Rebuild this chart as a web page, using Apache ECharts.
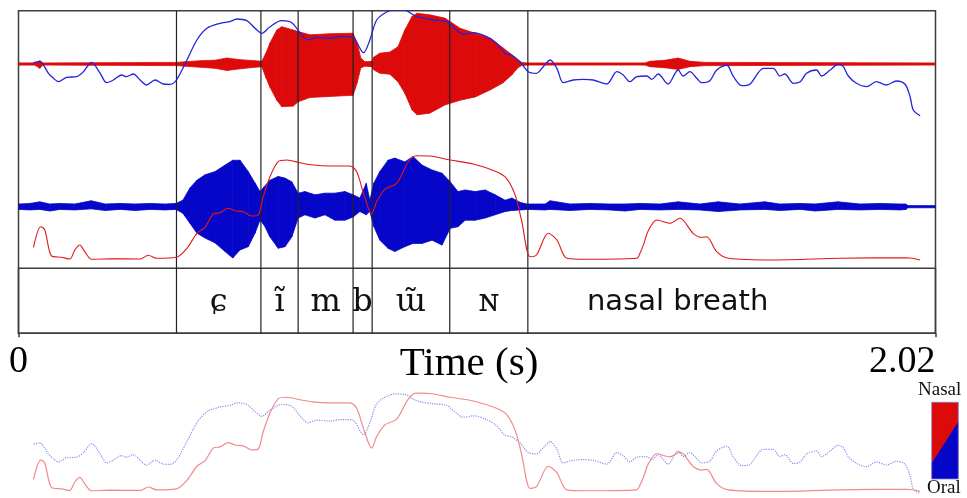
<!DOCTYPE html>
<html>
<head>
<meta charset="utf-8">
<script src="https://cdn.jsdelivr.net/npm/echarts@6/dist/echarts.min.js"></script>
<style>
  html, body { margin: 0; padding: 0; background: #fff; }
  #chart { width: 967px; height: 498px; }
</style>
</head>
<body>
<div id="chart"></div>
<script>
// ---- Recording: duration and segmentation (seconds) ----
const duration = 2.02;
const boundaries = [0.348, 0.534, 0.616, 0.737, 0.779, 0.950, 1.122];
const tierLabels = ['', 'ɕ', 'ĩ', 'm', 'b', 'ɯ̃', 'ɴ', 'nasal breath'];

// ---- Nasal channel waveform: positive / negative peak per time (relative amplitude) ----
const nasalWaveTime = [0.001, 0.036, 0.047, 0.054, 0.347, 0.367, 0.400, 0.433, 0.459, 0.488, 0.521, 0.536,
  0.545, 0.554, 0.569, 0.580, 0.605, 0.616, 0.642, 0.686, 0.737, 0.746, 0.754, 0.763, 0.779, 0.783, 0.796,
  0.818, 0.836, 0.851, 0.867, 0.878, 0.906, 0.939, 0.973, 1.006, 1.039, 1.067, 1.087, 1.100, 1.108, 1.120,
  1.380, 1.391, 1.424, 1.453, 1.479, 1.512, 2.019];
const nasalWaveMax = [0.02, 0.02, 0.06, 0.02, 0.03, 0.04, 0.06, 0.07, 0.11, 0.08, 0.06, 0.05,
  0.20, 0.39, 0.63, 0.69, 0.63, 0.60, 0.54, 0.56, 0.57, 0.39, 0.11, 0.04, 0.05, 0.13, 0.20,
  0.22, 0.32, 0.63, 0.88, 0.94, 0.91, 0.85, 0.66, 0.57, 0.48, 0.30, 0.17, 0.07, 0.03, 0.02,
  0.02, 0.05, 0.07, 0.11, 0.05, 0.03, 0.02];
const nasalWaveMin = [-0.02, -0.02, -0.08, -0.02, -0.03, -0.04, -0.06, -0.08, -0.12, -0.09, -0.06, -0.05,
  -0.25, -0.43, -0.67, -0.79, -0.78, -0.70, -0.62, -0.60, -0.58, -0.35, -0.07, -0.04, -0.05, -0.11, -0.17,
  -0.19, -0.33, -0.54, -0.85, -0.94, -0.91, -0.76, -0.67, -0.61, -0.48, -0.35, -0.20, -0.07, -0.03, -0.02,
  -0.02, -0.05, -0.07, -0.10, -0.05, -0.03, -0.02];

// ---- Oral channel waveform ----
const oralWaveTime = [0.001, 0.025, 0.047, 0.069, 0.091, 0.124, 0.160, 0.191, 0.224, 0.257, 0.290, 0.323,
  0.347, 0.362, 0.378, 0.393, 0.411, 0.433, 0.455, 0.472, 0.488, 0.506, 0.521, 0.532, 0.541, 0.554, 0.572,
  0.587, 0.602, 0.616, 0.631, 0.653, 0.675, 0.697, 0.719, 0.737, 0.752, 0.766, 0.774, 0.783, 0.796, 0.814,
  0.829, 0.851, 0.869, 0.889, 0.911, 0.933, 0.951, 0.968, 0.984, 1.006, 1.028, 1.050, 1.072, 1.087, 1.105,
  1.120, 1.160, 1.171, 1.215, 1.259, 1.303, 1.336, 1.369, 1.413, 1.453, 1.501, 1.541, 1.589, 1.644, 1.677,
  1.722, 1.755, 1.805, 1.854, 1.898, 1.942, 1.955, 1.959, 2.019];
const oralWaveMax = [0.05, 0.06, 0.09, 0.05, 0.06, 0.05, 0.11, 0.05, 0.06, 0.05, 0.06, 0.05,
  0.06, 0.12, 0.35, 0.49, 0.59, 0.65, 0.77, 0.86, 0.86, 0.65, 0.44, 0.28, 0.37, 0.49, 0.56,
  0.53, 0.46, 0.25, 0.28, 0.22, 0.25, 0.25, 0.28, 0.22, 0.16, 0.43, 0.12, 0.44, 0.65, 0.86,
  0.90, 0.83, 0.93, 0.77, 0.68, 0.62, 0.46, 0.28, 0.31, 0.28, 0.31, 0.22, 0.12, 0.16, 0.08,
  0.05, 0.05, 0.11, 0.05, 0.06, 0.05, 0.05, 0.06, 0.05, 0.09, 0.05, 0.09, 0.05, 0.09, 0.05,
  0.06, 0.05, 0.09, 0.05, 0.06, 0.05, 0.05, 0.02, 0.02];
const oralWaveMin = [-0.05, -0.06, -0.05, -0.08, -0.05, -0.06, -0.04, -0.07, -0.05, -0.07, -0.05, -0.06,
  -0.05, -0.12, -0.31, -0.49, -0.58, -0.67, -0.83, -0.95, -0.80, -0.74, -0.49, -0.25, -0.34, -0.56, -0.77,
  -0.74, -0.56, -0.21, -0.15, -0.21, -0.15, -0.25, -0.25, -0.19, -0.09, -0.15, -0.09, -0.37, -0.62, -0.77,
  -0.83, -0.74, -0.68, -0.68, -0.62, -0.71, -0.40, -0.37, -0.25, -0.25, -0.21, -0.15, -0.09, -0.07, -0.06,
  -0.05, -0.06, -0.05, -0.07, -0.05, -0.06, -0.08, -0.05, -0.06, -0.05, -0.06, -0.09, -0.06, -0.05, -0.07,
  -0.05, -0.08, -0.05, -0.06, -0.05, -0.06, -0.05, -0.02, -0.02];

// ---- Oral amplitude envelope (level units) ----
const oralEnvTime = [0.033, 0.047, 0.055, 0.066, 0.077, 0.088, 0.106, 0.128, 0.143, 0.161, 0.180, 0.194,
  0.209, 0.227, 0.238, 0.253, 0.268, 0.282, 0.301, 0.319, 0.334, 0.348, 0.371, 0.393, 0.415, 0.444, 0.466,
  0.481, 0.503, 0.521, 0.536, 0.554, 0.580, 0.602, 0.624, 0.638, 0.657, 0.686, 0.708, 0.734, 0.760, 0.774,
  0.789, 0.811, 0.829, 0.851, 0.877, 0.914, 0.943, 0.965, 0.980, 1.002, 1.031, 1.053, 1.072, 1.086, 1.105,
  1.123, 1.141, 1.156, 1.171, 1.186, 1.200, 1.222, 1.244, 1.266, 1.296, 1.318, 1.332, 1.347, 1.362, 1.384,
  1.395, 1.409, 1.431, 1.453, 1.464, 1.479, 1.494, 1.505, 1.523, 1.538, 1.560, 1.575, 1.593, 1.611, 1.641,
  1.663, 1.677, 1.688, 1.707, 1.722, 1.736, 1.758, 1.769, 1.788, 1.806, 1.817, 1.828, 1.846, 1.868, 1.890,
  1.912, 1.934, 1.953, 1.964, 1.971, 1.986];
const oralEnvLevel = [57.3, 58.3, 55, 46.7, 41.7, 38.3, 42.7, 43.3, 48.3, 57.7, 46.7, 37.3,
  40, 45, 43.3, 46, 40, 35, 40, 36, 35.7, 40, 60, 80, 91.7, 96.7, 98.3,
  101, 99.3, 91.7, 86.7, 93.3, 99.3, 97.3, 85, 80, 82.7, 81.7, 83.3, 83.3, 67.3, 80,
  100, 108, 110.5, 110, 103.3, 100, 98.3, 90, 85.7, 87.3, 83.3, 76.7, 66.7, 65, 58.3,
  48.3, 46.7, 53.3, 60, 51.7, 37.3, 40, 40.7, 40, 36, 48.3, 45, 38.3, 43.3, 44,
  40.7, 46, 36, 50, 44, 48.3, 41.7, 37.3, 39.3, 50, 55, 43.3, 34.3, 35.7, 51.7,
  51.7, 44, 46, 36.7, 38.3, 46.7, 50, 44, 50, 56, 53.3, 44, 36.7, 33.3, 38.3,
  35, 39, 35.7, 23.3, 10, 4.3];

// ---- Nasal amplitude envelope (level units) ----
const nasalEnvTime = [0.033, 0.049, 0.058, 0.073, 0.095, 0.113, 0.124, 0.135, 0.146, 0.161, 0.202, 0.268,
  0.286, 0.304, 0.348, 0.371, 0.393, 0.411, 0.429, 0.444, 0.462, 0.477, 0.495, 0.514, 0.528, 0.539, 0.554,
  0.572, 0.591, 0.620, 0.649, 0.686, 0.730, 0.745, 0.760, 0.778, 0.789, 0.807, 0.833, 0.859, 0.877, 0.906,
  0.951, 1.002, 1.053, 1.075, 1.094, 1.108, 1.127, 1.141, 1.167, 1.186, 1.208, 1.252, 1.362, 1.369, 1.378,
  1.387, 1.406, 1.435, 1.457, 1.486, 1.505, 1.516, 1.538, 1.564, 1.663, 1.810, 1.957, 1.986];
const nasalEnvLevel = [19.7, 40.3, 37, 11, 9.7, 8, 17, 22, 15.3, 7.7, 8.3, 8,
  11.7, 8.7, 9.7, 18.7, 33.7, 39.7, 53, 54.3, 58.7, 56.3, 55.3, 51, 52, 70.3, 90.3,
  105.3, 107, 104.3, 102, 101, 101, 95.3, 73.7, 53, 65.3, 77.7, 83.7, 105.3, 111.3, 111,
  107, 103, 95.3, 88.7, 72, 47, 10.3, 12, 33.7, 27, 8.7, 7.7, 8.7, 13.7, 24,
  36, 47, 43.7, 48.7, 33.7, 29.7, 30.3, 15.3, 8.7, 7, 8.7, 9.3, 7];

// ---- Colours ----
const RED = '#dc0a0a';
const BLUE = '#0606c8';
const FRAME = '#3c3c3c';
const LEFT = 18.5, RIGHT = 31.5;

function pairs(t, v) { return t.map((x, i) => [x, v[i]]); }
function bandSegments(t, hi, lo) {
  const out = [];
  for (let i = 0; i < t.length - 1; i++) out.push([t[i], hi[i], lo[i], t[i + 1], hi[i + 1], lo[i + 1]]);
  return out;
}
function bandRenderer(color) {
  return function (params, api) {
    const a0 = api.coord([api.value(0), api.value(1)]);
    const a1 = api.coord([api.value(3), api.value(4)]);
    const b1 = api.coord([api.value(3), api.value(5)]);
    const b0 = api.coord([api.value(0), api.value(2)]);
    return {
      type: 'polygon',
      shape: { points: [a0, a1, b1, b0] },
      style: { fill: color, stroke: color, lineWidth: 0.8 }
    };
  };
}

const xHidden = (gi) => ({ type: 'value', gridIndex: gi, min: 0, max: duration, show: false });
const yHidden = (gi, mn, mx) => ({ type: 'value', gridIndex: gi, min: mn, max: mx, show: false });

const chart = echarts.init(document.getElementById('chart'), null, { renderer: 'canvas' });

const tierData = [];
const edges = [0].concat(boundaries, [duration]);
for (let i = 0; i < edges.length - 1; i++) tierData.push([edges[i], edges[i + 1], i]);

const option = {
  animation: false,
  backgroundColor: '#ffffff',
  grid: [
    // 0: outer frame with time axis
    { left: LEFT, right: RIGHT, top: 10.7, height: 322.6, show: true, borderColor: FRAME, borderWidth: 1.5, backgroundColor: 'transparent' },
    // 1: text tier
    { left: LEFT, right: RIGHT, top: 268.3, height: 65, show: true, borderColor: FRAME, borderWidth: 1.5, backgroundColor: 'transparent' },
    // 2: nasal waveform
    { left: LEFT, right: RIGHT, top: 10, height: 108 },
    // 3: oral waveform
    { left: LEFT, right: RIGHT, top: 152.7, height: 108 },
    // 4: oral envelope (upper panel)
    { left: LEFT, right: RIGHT, top: 10.7, height: 109.3 },
    // 5: nasal envelope (middle panel)
    { left: LEFT, right: RIGHT, top: 147, height: 120 },
    // 6: overlay of both envelopes
    { left: LEFT, right: RIGHT, top: 385, height: 120 }
  ],
  xAxis: [
    {
      type: 'value', gridIndex: 0, min: 0, max: duration, interval: duration,
      axisLine: { show: false },
      axisTick: { show: true, length: 4, lineStyle: { color: FRAME, width: 1.5 } },
      splitLine: { show: false },
      axisLabel: {
        fontFamily: 'Liberation Serif', fontSize: 38, color: '#000', margin: 10,
        alignMaxLabel: 'right',
        formatter: (v) => (v === 0 ? '0' : v.toFixed(2))
      },
      name: 'Time (s)', nameLocation: 'middle', nameGap: 10, nameMoveOverlap: false,
      nameTextStyle: {
        fontFamily: 'Liberation Serif', fontSize: 41, color: '#000', verticalAlign: 'top',
        padding: [0, 16, 0, 0]
      }
    },
    xHidden(1), xHidden(2), xHidden(3), xHidden(4), xHidden(5), xHidden(6)
  ],
  yAxis: [
    yHidden(0, 0, 1), yHidden(1, 0, 1), yHidden(2, -1, 1), yHidden(3, -1, 1),
    yHidden(4, 0, 109.3), yHidden(5, 0, 120), yHidden(6, 0, 120)
  ],
  series: [
    {
      type: 'custom', name: 'nasal waveform', xAxisIndex: 2, yAxisIndex: 2,
      data: bandSegments(nasalWaveTime, nasalWaveMax, nasalWaveMin),
      encode: { x: [0, 3], y: [1, 2, 4, 5] },
      renderItem: bandRenderer(RED), z: 2
    },
    {
      type: 'custom', name: 'oral waveform', xAxisIndex: 3, yAxisIndex: 3,
      data: bandSegments(oralWaveTime, oralWaveMax, oralWaveMin),
      encode: { x: [0, 3], y: [1, 2, 4, 5] },
      renderItem: bandRenderer(BLUE), z: 2
    },
    {
      type: 'custom', name: 'boundaries', xAxisIndex: 0, yAxisIndex: 0,
      data: boundaries.map((t) => [t, 0]),
      encode: { x: 0 },
      renderItem: function (params, api) {
        const p = api.coord([api.value(0), 0]);
        const q = api.coord([api.value(0), 1]);
        return { type: 'line', shape: { x1: p[0], y1: p[1], x2: q[0], y2: q[1] }, style: { stroke: '#222', lineWidth: 1.2 } };
      },
      z: 3
    },
    {
      type: 'custom', name: 'tier', xAxisIndex: 1, yAxisIndex: 1,
      data: tierData,
      encode: { x: [0, 1] },
      renderItem: function (params, api) {
        const idx = api.value(2);
        const label = tierLabels[idx];
        if (!label) return null;
        const mid = api.coord([(api.value(0) + api.value(1)) / 2, 0.5]);
        const isWord = label.length > 2;
        return {
          type: 'text',
          x: mid[0] + (isWord ? -54 : 0), y: mid[1] + 2,
          style: {
            text: label, align: 'center', verticalAlign: 'middle', fill: '#111',
            font: isWord ? '29px "DejaVu Sans"' : '32px "DejaVu Serif"'
          }
        };
      },
      z: 4
    },
    {
      type: 'line', name: 'oral envelope', xAxisIndex: 4, yAxisIndex: 4,
      data: pairs(oralEnvTime, oralEnvLevel), showSymbol: false, smooth: 0.3, clip: true,
      lineStyle: { color: '#2424d8', width: 1.3 }, z: 5
    },
    {
      type: 'line', name: 'nasal envelope', xAxisIndex: 5, yAxisIndex: 5,
      data: pairs(nasalEnvTime, nasalEnvLevel), showSymbol: false, smooth: 0.3,
      lineStyle: { color: '#e01818', width: 1.1 }, z: 5
    },
    {
      type: 'line', name: 'oral overlay', xAxisIndex: 6, yAxisIndex: 6,
      data: pairs(oralEnvTime, oralEnvLevel), showSymbol: false, smooth: 0.3, clip: false,
      lineStyle: { color: '#8a8af2', width: 1.2, type: 'dotted' }, z: 5
    },
    {
      type: 'line', name: 'nasal overlay', xAxisIndex: 6, yAxisIndex: 6,
      data: pairs(nasalEnvTime, nasalEnvLevel), showSymbol: false, smooth: 0.3, clip: false,
      lineStyle: { color: '#f08a8a', width: 1.2 }, z: 5
    }
  ],
  graphic: [
    { type: 'text', left: 918, top: 381, style: { text: 'Nasal', font: '19px "Liberation Serif"', fill: '#111' } },
    { type: 'rect', shape: { x: 931.7, y: 402.3, width: 26.6, height: 76.7 }, style: { fill: RED } },
    { type: 'polygon', shape: { points: [[931.7, 463.3], [958.3, 421.7], [958.3, 479], [931.7, 479]] }, style: { fill: BLUE } },
    { type: 'rect', shape: { x: 931.7, y: 402.3, width: 26.6, height: 76.7 }, style: { fill: 'none', stroke: '#8080d0', lineWidth: 0.8 } },
    { type: 'text', left: 927, top: 479, style: { text: 'Oral', font: '19px "Liberation Serif"', fill: '#111' } }
  ]
};
chart.setOption(option);
</script>
</body>
</html>
